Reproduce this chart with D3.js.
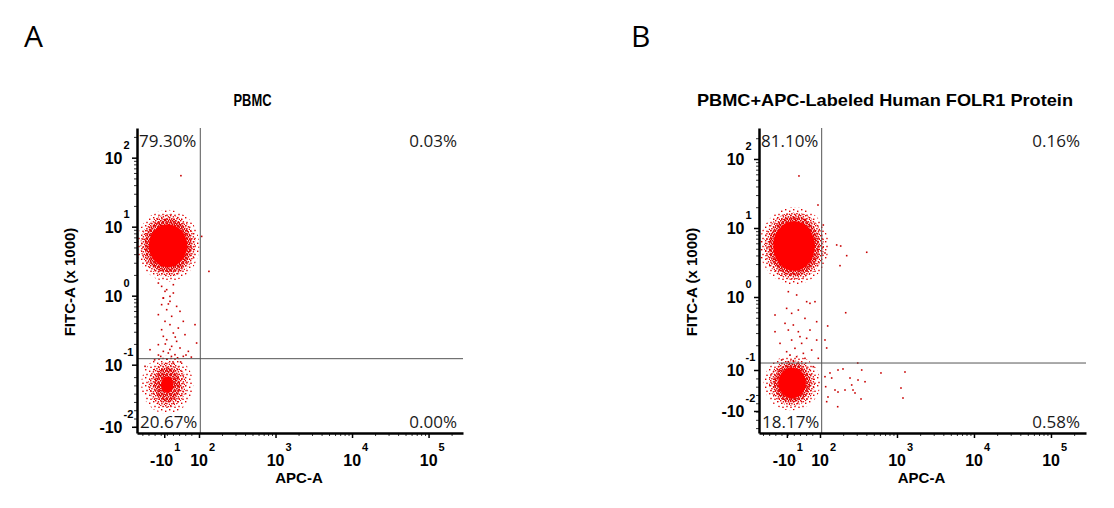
<!DOCTYPE html>
<html>
<head>
<meta charset="utf-8">
<script src="https://cdn.jsdelivr.net/npm/d3@7"></script>
<style>
  body { margin: 0; background: #fff; }
  text { font-family: "Liberation Sans", Arial, sans-serif; fill: #000; }
  .tick-base { font-weight: bold; font-size: 16px; }
  .tick-exp { font-weight: bold; font-size: 11px; }
  .axis-title { font-weight: bold; font-size: 15px; }
  .pct { font-family: "Open Sans", sans-serif; font-size: 17px; fill: #1a1a1a; }
  .title { font-family: "Liberation Sans Narrow", "Liberation Sans", sans-serif; font-weight: bold; font-size: 17px; }
  .letter { font-family: "Liberation Sans Narrow", "Open Sans", sans-serif; font-size: 30px; }
</style>
</head>
<body>
<svg id="chart" width="1114" height="508"></svg>
<script>
  // display units: decade position on the logicle axis (10^k -> k)
  var xDomainA = [1.19, 5.45];
  var yDomainA = [-1.99, 2.43];
  var xDomainB = [1.208, 5.455];
  var yDomainB = [-1.971, 2.449];

  var xTicksA = [1.546, 2, 3, 4, 5];
  var xTicksB = [1.57, 2, 3, 4, 5];
  var xTickBase = ['-10', '10', '10', '10', '10'];
  var xTickExp = ['1', '2', '3', '4', '5'];

  var yTicksA = [2, 1, 0, -1, -1.9];
  var yTicksB = [2, 1, 0, -1.058, -1.652];
  var yTickBase = ['10', '10', '10', '10', '-10'];
  var yTickExp = ['2', '1', '0', '-1', '-2'];

  // quadrant gate [x, y]
  var gateA = [2.017, -0.913];
  var gateB = [2.022, -0.957];

  // UL, UR, LL, LR
  var pctA = ['79.30%', '0.03%', '20.67%', '0.00%'];
  var pctB = ['81.10%', '0.16%', '18.17%', '0.58%'];

  var titles = ['PBMC', 'PBMC+APC-Labeled Human FOLR1 Protein'];

  // dense populations: centre and radii of density levels
  var clustersA = [
    {x: 1.595, y: 0.725, solid: [0.25, 0.31], dense: [0.31, 0.39], medium: [0.36, 0.45], sparse: [0.41, 0.52]},
    {x: 1.585, y: -1.29, solid: [0.08, 0.12], dense: [0.17, 0.25], medium: [0.25, 0.33], sparse: [0.34, 0.42]}
  ];
  var clustersB = [
    {x: 1.663, y: 0.739, solid: [0.27, 0.36], dense: [0.33, 0.43], medium: [0.39, 0.49], sparse: [0.45, 0.56]},
    {x: 1.637, y: -1.246, solid: [0.18, 0.22], dense: [0.24, 0.28], medium: [0.30, 0.33], sparse: [0.37, 0.40]}
  ];

  // single events
  var eventsA = [
    [1.556, 0.063], [1.665, 0.039], [1.534, -0.034], [1.621, -0.082], [1.512, -0.130],
    [1.708, -0.155], [1.578, -0.203], [1.752, -0.227], [1.469, -0.275], [1.643, -0.299],
    [1.556, -0.372], [1.795, -0.372], [1.621, -0.420], [1.512, -0.493], [1.730, -0.469],
    [1.665, -0.541], [1.534, -0.589], [1.817, -0.565], [1.578, -0.638], [1.708, -0.662],
    [1.469, -0.710], [1.643, -0.734], [1.752, -0.758], [1.534, -0.807], [1.861, -0.807],
    [1.599, -0.831], [1.686, -0.855], [1.795, -0.879], [1.360, -0.783], [1.948, -0.420],
    [1.295, -1.024], [1.969, -0.686], [1.512, 0.135], [1.578, 0.087], [1.621, -0.010],
    [1.534, -0.034], [1.469, 0.183], [1.665, 0.159], [1.764, 1.739], [2.130, 0.352],
    [2.035, 0.859], [1.600, -0.120], [1.690, -0.600], [1.560, -0.700], [1.640, -0.880],
    [1.500, -0.880], [1.580, -0.920], [1.720, -0.900], [1.830, -0.860], [1.470, -0.860],
    [1.620, -0.780], [1.900, -0.890], [1.420, -0.930], [1.760, -0.960], [1.660, -0.960]
  ];
  var eventsB = [
    [1.589, 0.077], [1.697, 0.029], [1.827, -0.068], [1.870, -0.092], [1.935, -0.068],
    [1.567, -0.165], [1.632, -0.237], [1.719, -0.189], [1.805, -0.310], [1.957, -0.358],
    [1.416, -0.503], [1.589, -0.479], [1.719, -0.503], [1.827, -0.599], [1.957, -0.624],
    [1.481, -0.672], [1.567, -0.793], [1.675, -0.744], [1.784, -0.817], [1.892, -0.769],
    [1.978, -0.889], [1.546, -0.382], [1.654, -0.406], [1.740, -0.575], [1.502, -0.913],
    [1.416, -0.261], [1.632, -0.624], [1.762, -0.672], [1.870, -0.479], [1.697, -0.865],
    [1.611, -0.841], [1.589, -0.938], [1.719, -0.962], [1.805, -0.889], [1.913, -1.010],
    [1.654, -0.923],
    [2.100, -0.420], [2.065, -0.623], [2.087, -0.739], [2.334, -0.228], [2.299, -1.043],
    [2.234, -1.058], [2.542, -1.058], [2.490, -0.957], [2.792, -1.101], [3.104, -1.087],
    [2.195, -1.348], [2.234, -1.377], [2.325, -1.348], [2.412, -1.275], [2.429, -1.348],
    [2.494, -1.203], [2.533, -1.478], [2.455, -1.391], [2.390, -1.174], [2.152, -1.174],
    [3.052, -1.319], [3.078, -1.464], [2.230, -1.590], [2.087, -1.517], [2.104, -1.449],
    [2.065, -1.155], [2.074, -1.300], [2.585, -1.228], [2.130, -1.101],
    [2.217, 0.754], [2.269, 0.739], [2.347, 0.599], [2.607, 0.648], [2.260, 0.454],
    [2.043, 1.043], [2.065, 0.638], [1.974, 1.333], [1.727, 1.754]
  ];

  var svg = d3.select('#chart');
  var defs = svg.append('defs');

  // speckle textures for the population fringes
  function addPattern(id, size, dots) {
    var p = defs.append('pattern')
        .attr('id', id)
        .attr('patternUnits', 'userSpaceOnUse')
        .attr('width', size)
        .attr('height', size);
    dots.forEach(function (d) {
      p.append('rect')
          .attr('x', d[0]).attr('y', d[1])
          .attr('width', 1.4).attr('height', 1.4)
          .attr('fill', '#e00000');
    });
  }
  addPattern('dense', 4, [[0, 0], [2.1, 0.7], [0.8, 2.2], [2.9, 2.9], [2.4, 1.9]]);
  addPattern('medium', 5, [[0, 0], [2.7, 1.1], [1.2, 3.0], [3.8, 3.7]]);
  addPattern('sparse', 8, [[1, 1], [5, 2.6], [2.3, 5.8], [6.3, 6.6]]);

  function drawPanel(cfg) {
    var g = svg.append('g');
    var x = d3.scaleLinear().domain(cfg.xDomain).range([cfg.left, cfg.right]);
    var y = d3.scaleLinear().domain(cfg.yDomain).range([cfg.bottom, cfg.top]);
    var levels = [['sparse', 'url(#sparse)'], ['medium', 'url(#medium)'],
                  ['dense', 'url(#dense)'], ['solid', '#ff0000']];

    cfg.clusters.forEach(function (c) {
      levels.forEach(function (l) {
        var r = c[l[0]];
        g.append('ellipse')
            .attr('cx', x(c.x))
            .attr('cy', y(c.y))
            .attr('rx', x(c.x + r[0]) - x(c.x))
            .attr('ry', y(c.y) - y(c.y + r[1]))
            .attr('fill', l[1]);
      });
    });

    g.selectAll('rect.event')
        .data(cfg.events)
        .enter().append('rect')
        .attr('class', 'event')
        .attr('x', function (d) { return x(d[0]) - 0.8; })
        .attr('y', function (d) { return y(d[1]) - 0.8; })
        .attr('width', 1.6)
        .attr('height', 1.6)
        .attr('fill', '#c80000');

    // quadrant gate
    g.append('line')
        .attr('x1', x(cfg.gate[0])).attr('x2', x(cfg.gate[0]))
        .attr('y1', cfg.top).attr('y2', cfg.bottom)
        .attr('stroke', '#555').attr('stroke-width', 1);
    g.append('line')
        .attr('x1', cfg.left).attr('x2', cfg.right)
        .attr('y1', y(cfg.gate[1])).attr('y2', y(cfg.gate[1]))
        .attr('stroke', '#555').attr('stroke-width', 1);

    // minor ticks
    var xMinor = d3.range(1.26, 1.98, 0.08);
    [2, 3, 4, 5].forEach(function (k) {
      d3.range(2, 10).forEach(function (m) { xMinor.push(k + Math.log10(m)); });
    });
    xMinor = xMinor.filter(function (v) { return v < cfg.xDomain[1]; });
    var yMinor = d3.range(-1.9, -1.1, 0.12);
    [-1, 0, 1, 2].forEach(function (k) {
      d3.range(2, 10).forEach(function (m) { yMinor.push(k + Math.log10(m)); });
    });
    yMinor = yMinor.filter(function (v) { return v < cfg.yDomain[1]; });

    g.append('g')
        .attr('transform', 'translate(0,' + cfg.bottom + ')')
        .call(d3.axisBottom(x).tickValues(xMinor).tickSize(3).tickSizeOuter(0).tickFormat(''))
        .call(function (a) { a.select('.domain').remove(); a.selectAll('line').attr('stroke-width', 0.8); });
    g.append('g')
        .attr('transform', 'translate(' + cfg.left + ',0)')
        .call(d3.axisLeft(y).tickValues(yMinor).tickSize(3).tickSizeOuter(0).tickFormat(''))
        .call(function (a) { a.select('.domain').remove(); a.selectAll('line').attr('stroke-width', 0.8); });

    // main axes
    g.append('g')
        .attr('transform', 'translate(0,' + cfg.bottom + ')')
        .call(d3.axisBottom(x).tickValues(cfg.xTicks).tickSize(5).tickSizeOuter(0).tickFormat(''))
        .call(function (a) {
          a.select('.domain').attr('stroke-width', 2.5);
          a.selectAll('line').attr('stroke-width', 1.5);
        });
    g.append('g')
        .attr('transform', 'translate(' + cfg.left + ',0)')
        .call(d3.axisLeft(y).tickValues(cfg.yTicks).tickSize(5).tickSizeOuter(0).tickFormat(''))
        .call(function (a) {
          a.select('.domain').attr('stroke-width', 2.5);
          a.selectAll('line').attr('stroke-width', 1.5);
        });

    cfg.xTicks.forEach(function (v, i) {
      g.append('text').attr('class', 'tick-base')
          .attr('x', x(v) + 9).attr('y', cfg.bottom + 33)
          .attr('text-anchor', 'end').text(xTickBase[i]);
      g.append('text').attr('class', 'tick-exp')
          .attr('x', x(v) + 10).attr('y', cfg.bottom + 18)
          .text(xTickExp[i]);
    });
    cfg.yTicks.forEach(function (v, i) {
      g.append('text').attr('class', 'tick-base')
          .attr('x', cfg.left - 14.5).attr('y', y(v) + 6)
          .attr('text-anchor', 'end').text(yTickBase[i]);
      g.append('text').attr('class', 'tick-exp')
          .attr('x', cfg.left - 13.5).attr('y', y(v) - 9)
          .text(yTickExp[i]);
    });

    // axis titles
    g.append('text').attr('class', 'axis-title')
        .attr('text-anchor', 'middle')
        .attr('transform', 'translate(' + (cfg.left - 62) + ',' + 282 + ') rotate(-90)')
        .text('FITC-A (x 1000)');
    g.append('text').attr('class', 'axis-title')
        .attr('text-anchor', 'middle')
        .attr('x', (cfg.left + cfg.right) / 2 - 1)
        .attr('y', cfg.bottom + 50)
        .text('APC-A');

    // quadrant percentages
    var top = cfg.top + 19, bottom = cfg.bottom - 5;
    g.append('text').attr('class', 'pct').attr('x', cfg.left + 2).attr('y', top).text(cfg.pct[0]);
    g.append('text').attr('class', 'pct').attr('x', cfg.right - 6).attr('y', top)
        .attr('text-anchor', 'end').text(cfg.pct[1]);
    g.append('text').attr('class', 'pct').attr('x', cfg.left + 3).attr('y', bottom).text(cfg.pct[2]);
    g.append('text').attr('class', 'pct').attr('x', cfg.right - 6).attr('y', bottom)
        .attr('text-anchor', 'end').text(cfg.pct[3]);

    g.append('text').attr('class', 'title')
        .attr('text-anchor', 'middle')
        .attr('x', cfg.titleX).attr('y', 106)
        .attr('textLength', cfg.titleLen).attr('lengthAdjust', 'spacingAndGlyphs')
        .text(cfg.title);
    g.append('text').attr('class', 'letter')
        .attr('x', cfg.letterX).attr('y', 47)
        .text(cfg.letter);
  }

  drawPanel({
    left: 137, right: 463, top: 128, bottom: 433,
    xDomain: xDomainA, yDomain: yDomainA, xTicks: xTicksA, yTicks: yTicksA,
    gate: gateA, pct: pctA, clusters: clustersA, events: eventsA,
    title: titles[0], titleX: 252.5, titleLen: 38, letter: 'A', letterX: 24
  });
  drawPanel({
    left: 759, right: 1086, top: 128, bottom: 433,
    xDomain: xDomainB, yDomain: yDomainB, xTicks: xTicksB, yTicks: yTicksB,
    gate: gateB, pct: pctB, clusters: clustersB, events: eventsB,
    title: titles[1], titleX: 885, titleLen: 376, letter: 'B', letterX: 631
  });
</script>
</body>
</html>
